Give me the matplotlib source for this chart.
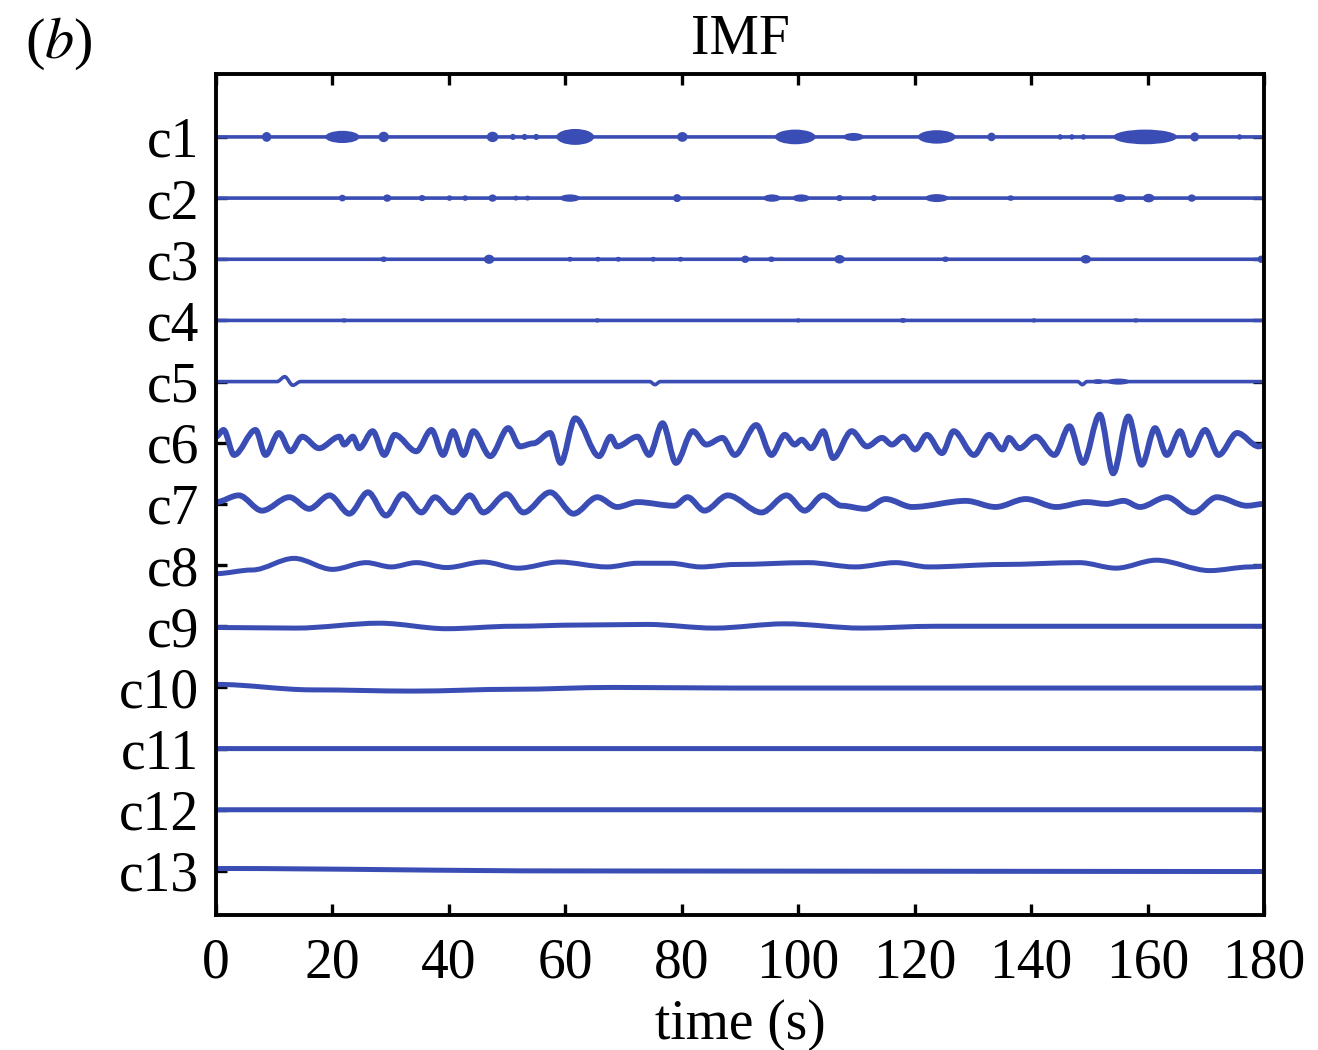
import matplotlib
matplotlib.use("Agg")
import matplotlib.pyplot as plt
from matplotlib.patches import Ellipse, PathPatch
from matplotlib.path import Path

plt.rcParams["font.family"] = ["Liberation Serif", "DejaVu Serif"]
plt.rcParams["mathtext.fontset"] = "stix"

# ---------------------------------------------------------------------------
# Data.  Values are in units of the row spacing,
# positive = upwards.  Points are the turning points of each trace.
# ---------------------------------------------------------------------------
LABELS = ["c1", "c2", "c3", "c4", "c5", "c6", "c7",
          "c8", "c9", "c10", "c11", "c12", "c13"]
XTICKS = [0, 20, 40, 60, 80, 100, 120, 140, 160, 180]

# flat traces with short bursts (c1..c4 are noise-like IMFs)
FLAT_T = [0, 180]
FLAT_V = [0.0, 0.0]

C5_T = [0, 10.5, 11.8, 13.2, 14.5, 74.5, 75.4, 76.3, 148.0, 148.8, 149.6, 180]
C5_V = [0, 0, 0.08, -0.06, 0, 0, -0.05, 0, 0, -0.05, 0, 0]

C6_T = [0, 1.3, 3.1, 6.8, 8.5, 10.8, 12.8, 14.8, 17.7, 21.2, 22.0, 23.5, 24.6,
        26.9, 28.9, 30.7, 34.4, 37.0, 39.0, 40.7, 42.5, 44.2, 47.1, 50.2, 52.2,
        54.5, 57.4, 59.2, 61.7, 65.8, 67.8, 68.9, 72.4, 74.4, 76.7, 79.0, 81.9,
        84.2, 87.0, 89.1, 92.8, 95.4, 97.7, 99.4, 100.6, 102.2, 104.3, 106.0,
        109.2, 111.8, 114.4, 116.1, 118.1, 120.1, 122.1, 124.7, 126.7, 130.2,
        132.8, 135.1, 136.2, 138.0, 140.8, 144.0, 146.6, 148.9, 151.8, 154.1,
        156.7, 159.0, 161.3, 163.3, 165.6, 167.3, 169.9, 172.2, 175.4, 179.1, 180]
C6_V = [0.10, 0.21, -0.20, 0.21, -0.20, 0.16, -0.14, 0.10, -0.09, 0.10, -0.03,
        0.10, -0.09, 0.19, -0.20, 0.13, -0.14, 0.21, -0.20, 0.19, -0.20, 0.19,
        -0.22, 0.24, -0.06, -0.01, 0.16, -0.33, 0.40, -0.22, 0.10, -0.06, 0.10,
        -0.20, 0.32, -0.33, 0.19, -0.03, 0.08, -0.20, 0.29, -0.20, 0.13, -0.03,
        0.05, -0.09, 0.19, -0.25, 0.19, -0.06, 0.08, -0.03, 0.10, -0.11, 0.13,
        -0.17, 0.19, -0.20, 0.13, -0.11, 0.08, -0.09, 0.10, -0.20, 0.27, -0.33,
        0.46, -0.50, 0.43, -0.36, 0.24, -0.20, 0.19, -0.20, 0.21, -0.20, 0.16,
        -0.06, -0.04]

C7_T = [0, 3.9, 7.9, 12.6, 16.0, 19.5, 22.9, 26.1, 29.2, 32.1, 35.3, 37.6,
        40.7, 43.6, 45.9, 49.9, 52.8, 57.4, 61.4, 65.5, 68.9, 72.4, 78.7, 81.0,
        83.9, 87.9, 93.7, 98.0, 101.1, 104.3, 107.5, 111.5, 115.0, 119.6, 128.8,
        133.9, 139.1, 144.3, 149.5, 152.9, 155.9, 158.7, 163.3, 167.9, 171.9,
        177.1, 180]
C7_V = [0.03, 0.14, -0.11, 0.11, -0.08, 0.14, -0.16, 0.19, -0.19, 0.16, -0.14,
        0.11, -0.14, 0.14, -0.14, 0.16, -0.14, 0.19, -0.16, 0.11, -0.05, 0.03,
        -0.03, 0.11, -0.11, 0.14, -0.14, 0.14, -0.11, 0.14, -0.03, -0.08, 0.08,
        -0.05, 0.05, -0.05, 0.08, -0.05, 0.03, 0.0, 0.05, -0.05, 0.11, -0.14,
        0.11, -0.03, 0.0]

C8_T = [0, 6.2, 13.4, 20.0, 25.8, 30.1, 34.4, 39.6, 45.9, 51.9, 58.9, 67.2,
        72.4, 78.0, 83.3, 89.1, 101.7, 109.8, 116.7, 122.4, 135.0, 148.3, 154.6,
        161.5, 170.7, 177.6, 180]
C8_V = [-0.14, -0.08, 0.11, -0.07, 0.04, -0.03, 0.04, -0.04, 0.05, -0.05, 0.05,
        -0.03, 0.03, 0.03, -0.03, 0.01, 0.04, -0.03, 0.04, -0.03, 0.01, 0.04,
        -0.05, 0.08, -0.09, -0.03, -0.02]

C9_T = [0, 13.7, 28.1, 39.6, 51.0, 62.6, 74.1, 85.6, 97.7, 110.9, 123.6, 180]
C9_V = [-0.02, -0.03, 0.05, -0.04, 0.0, 0.02, 0.03, -0.03, 0.04, -0.03, 0.0, 0.0]

C10_T = [0, 16.6, 33.8, 51.1, 68.3, 89.1, 112.0, 180]
C10_V = [0.05, -0.04, -0.06, -0.03, 0.0, -0.01, -0.01, -0.01]

C13_T = [0, 60, 180]
C13_V = [0.04, 0.0, -0.01]

# bursts on the high-frequency IMFs: centre (s), width (s), full height (rows)
C1_BURST_T = [8.7, 21.7, 28.8, 47.5, 51.0, 53.0, 55.0, 61.7, 80.1, 99.5, 109.5,
              123.8, 133.2, 145.0, 147.0, 149.0, 159.6, 168.1, 175.8]
C1_BURST_W = [1.6, 5.9, 1.8, 2.0, 1.0, 1.0, 1.0, 6.5, 1.8, 7.0, 3.5, 6.5, 1.4,
              0.9, 0.9, 0.9, 11.0, 1.5, 0.9]
C1_BURST_H = [0.16, 0.20, 0.17, 0.17, 0.10, 0.10, 0.10, 0.26, 0.16, 0.24, 0.13,
              0.22, 0.14, 0.09, 0.09, 0.09, 0.24, 0.15, 0.09]

C2_BURST_T = [21.7, 29.4, 35.4, 40.1, 42.8, 47.5, 51.5, 53.5, 60.8, 79.2, 95.5,
              100.5, 107.1, 113.0, 123.8, 136.5, 155.2, 160.2, 167.6]
C2_BURST_W = [1.2, 1.4, 1.2, 1.0, 1.0, 1.4, 1.0, 1.0, 3.5, 1.4, 3.0, 3.0, 1.2,
              1.2, 4.0, 1.2, 2.3, 2.0, 1.4]
C2_BURST_H = [0.11, 0.12, 0.10, 0.09, 0.09, 0.12, 0.08, 0.08, 0.12, 0.13, 0.12,
              0.12, 0.10, 0.10, 0.13, 0.09, 0.13, 0.14, 0.12]

C3_BURST_T = [28.8, 46.9, 60.8, 65.6, 69.1, 75.1, 79.8, 90.9, 95.4, 107.1,
              125.3, 149.4, 179.5]
C3_BURST_W = [1.2, 1.8, 1.0, 1.0, 1.0, 1.0, 1.0, 1.4, 1.2, 1.8, 1.2, 1.8, 1.2]
C3_BURST_H = [0.09, 0.15, 0.08, 0.08, 0.08, 0.08, 0.08, 0.12, 0.09, 0.14, 0.09,
              0.14, 0.12]

C4_BURST_T = [22.0, 65.5, 100.0, 118.0, 140.5, 158.0]
C4_BURST_W = [1.0, 1.0, 1.0, 1.2, 1.0, 1.0]
C4_BURST_H = [0.07, 0.07, 0.07, 0.08, 0.07, 0.07]

C5_BURST_T = [151.5, 155.0]
C5_BURST_W = [2.0, 4.0]
C5_BURST_H = [0.08, 0.10]

# ---------------------------------------------------------------------------
BLUE = "#3a4db4"
TRACES = [
    (FLAT_T, FLAT_V), (FLAT_T, FLAT_V), (FLAT_T, FLAT_V), (FLAT_T, FLAT_V),
    (C5_T, C5_V), (C6_T, C6_V), (C7_T, C7_V), (C8_T, C8_V), (C9_T, C9_V),
    (C10_T, C10_V), (FLAT_T, FLAT_V), (FLAT_T, FLAT_V), (C13_T, C13_V),
]
BURSTS = {
    1: (C1_BURST_T, C1_BURST_W, C1_BURST_H),
    2: (C2_BURST_T, C2_BURST_W, C2_BURST_H),
    3: (C3_BURST_T, C3_BURST_W, C3_BURST_H),
    4: (C4_BURST_T, C4_BURST_W, C4_BURST_H),
    5: (C5_BURST_T, C5_BURST_W, C5_BURST_H),
}


def turning_path(t, y):
    """Path through turning points with flat tangents at each of them."""
    verts = [(t[0], y[0])]
    codes = [Path.MOVETO]
    for i in range(len(t) - 1):
        dt = t[i + 1] - t[i]
        verts += [(t[i] + dt / 3, y[i]), (t[i + 1] - dt / 3, y[i + 1]),
                  (t[i + 1], y[i + 1])]
        codes += [Path.CURVE4] * 3
    return Path(verts, codes)


fig = plt.figure(figsize=(13.18, 10.5), dpi=100)
ax = fig.add_axes([0.1639, 0.1286, 0.7951, 0.8010])

for row, (t, v) in enumerate(TRACES, start=1):
    if row <= 5:
        lw = 2.6
    elif row <= 7:
        lw = 4.2
    else:
        lw = 3.6
    ax.add_patch(PathPatch(turning_path(t, [row - a for a in v]),
                           facecolor="none", edgecolor=BLUE, lw=lw,
                           joinstyle="round", capstyle="butt", zorder=2))
    if row in BURSTS:
        bt, bw, bh = BURSTS[row]
        for tc, w, h in zip(bt, bw, bh):
            ax.add_patch(Ellipse((tc, row), w, h, facecolor=BLUE,
                                 edgecolor="none", zorder=2))

ax.set_xlim(0, 180)
ax.set_ylim(13.72, -0.03)
ax.set_xticks(XTICKS)
ax.set_yticks(range(1, len(LABELS) + 1))
ax.set_yticklabels(LABELS)

for s in ax.spines.values():
    s.set_linewidth(2.8)
    s.set_zorder(3)
ax.tick_params(direction="in", top=True, right=True, length=8, width=2.4,
               labelsize=40)
ax.tick_params(axis="x", pad=16)
ax.tick_params(axis="y", pad=12)

ax.set_xlabel("time (s)", fontsize=40, labelpad=7)
ax.set_title("IMF", fontsize=40, pad=14)
fig.text(0.019, 0.945, r"($b$)", fontsize=42, va="baseline", ha="left")

fig.savefig("out.png", dpi=100)
